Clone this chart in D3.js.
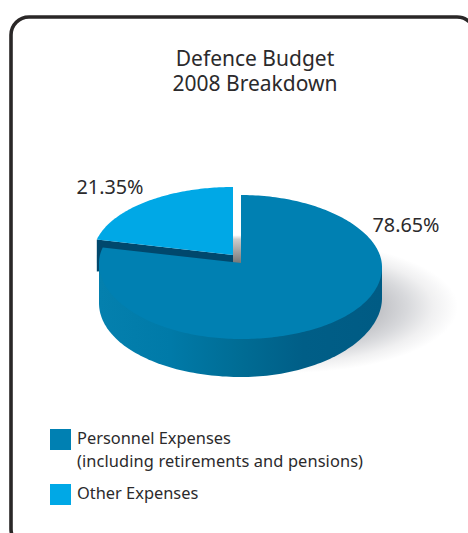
<!DOCTYPE html>
<html><head><meta charset="utf-8">
<style>html,body{margin:0;padding:0;background:#fff;overflow:hidden}svg{display:block}text{font-family:"Noto Sans","Open Sans",sans-serif;fill:#2b2a2c}</style>
<script src="https://cdn.jsdelivr.net/npm/d3@7/dist/d3.min.js"></script>
</head><body>
<script>
const categories = ["Personnel Expenses", "Other Expenses"];
const values = [78.65, 21.35];
const valueLabels = ["78.65%", "21.35%"];
const legendLines = [["Personnel Expenses", "(including retirements and pensions)"], ["Other Expenses"]];
const titleLines = ["Defence Budget", "2008 Breakdown"];
const colors = ["#0080b2", "#00a8e6"];

const W = 468, H = 533;
const svg = d3.select("body").append("svg").attr("width", W).attr("height", H);
const defs = svg.append("defs");

const rx = 141, rxLeft = 142, ryTop = 68, ryBottom = 76, cx = 241, cy = 263;

// perspective projection of a pie point: angle clockwise from the top, radius fraction t
function project(a, t, drop) {
  const s = Math.sin(a), c = Math.cos(a);
  const yr = c > 0 ? -ryTop * c : -ryBottom * c;
  const skew = s > 0 ? 4 * s * s : 0;
  return [(s < 0 ? rxLeft : rx) * s * t, (yr + skew) * t + (drop || 0)];
}
const depth = a => { const s = Math.sin(a); return s > 0 ? 38 - 7 * s * s : 38 + 2 * s * s; };

const pie = d3.pie().sort(null).startAngle(0).endAngle(2 * Math.PI);
const arcs = pie(values);
const [mainArc, otherArc] = arcs;
const line = d3.line();
const samples = (a0, a1, n = 120) => d3.range(n + 1).map(i => a0 + (a1 - a0) * i / n);

// frame
svg.append("rect").attr("x", 11).attr("y", 17).attr("width", 464).attr("height", 530).attr("rx", 18)
  .attr("fill", "#fff").attr("stroke", "#2a2727").attr("stroke-width", 3.6);

// shadow
const sg = defs.append("radialGradient").attr("id", "shadow");
sg.selectAll("stop").data([[0, "#bfc0c4"], [0.55, "#c4c5c9"], [0.7, "#d8d9dc"], [0.85, "#f0f0f1"], [1, "#ffffff"]]).join("stop")
  .attr("offset", d => d[0]).attr("stop-color", d => d[1]);
svg.append("ellipse").attr("cx", 290).attr("cy", 307).attr("rx", 168).attr("ry", 66).attr("fill", "url(#shadow)");

// side wall gradient (coordinates local to the pie group)
const wg = defs.append("linearGradient").attr("id", "wall").attr("gradientUnits", "userSpaceOnUse")
  .attr("x1", -rx).attr("x2", rx).attr("y1", 0).attr("y2", 0);
wg.selectAll("stop").data([[0, "#0480ae"], [0.25, "#007aa8"], [0.5, "#006c94"], [0.72, "#005e87"], [1, "#005b84"]]).join("stop")
  .attr("offset", d => d[0]).attr("stop-color", d => d[1]);

// gap wall gradient
const gg = defs.append("linearGradient").attr("id", "gap").attr("x1", 0).attr("x2", 0).attr("y1", 0).attr("y2", 1);
gg.selectAll("stop").data([[0, "#ffffff"], [0.15, "#cccccc"], [1, "#777777"]]).join("stop")
  .attr("offset", d => d[0]).attr("stop-color", d => d[1]);

const pieG = svg.append("g").attr("transform", `translate(${cx},${cy})`);
const otherDx = -8, otherDy = -8;
const otherG = pieG.append("g").attr("transform", `translate(${otherDx},${otherDy}) scale(0.985,1)`);

// other slice walls (mostly hidden behind the main slice)
const corner = project(otherArc.startAngle, 1);
otherG.append("path")
  .attr("d", line([[0, 0], corner, [corner[0], corner[1] + 32], [0, 8]]) + "Z")
  .attr("fill", "#00486d");

// grey inner wall of main slice seen through the gap
const apex = project(0, 0);
const topP = project(0, 1);
pieG.append("path")
  .attr("d", line([[otherDx, topP[1] * 0.41], [0, topP[1] * 0.41], apex, [otherDx, apex[1]]]) + "Z")
  .attr("fill", "url(#gap)");

// main slice side wall (runs under the top face so no seam shows)
const wallAngles = samples(Math.PI * 0.5, Math.PI * 1.5);
const wallBottom = wallAngles.map(a => project(a, 1, depth(a))).reverse();
const wallTopInner = [project(Math.PI * 0.5, 1), project(Math.PI * 0.5, 0.9), project(Math.PI * 1.5, 0.9), project(Math.PI * 1.5, 1)];
pieG.append("path").attr("d", line(wallTopInner.concat(wallBottom)) + "Z").attr("fill", "url(#wall)");

// main slice top
const mainPts = [apex].concat(samples(mainArc.startAngle, mainArc.endAngle, 240).map(a => project(a, 1)));
pieG.append("path").attr("d", line(mainPts) + "Z").attr("fill", colors[0]);

// other slice top
const otherPts = [apex].concat(samples(otherArc.startAngle, otherArc.endAngle, 80).map(a => project(a, 1)));
otherG.append("path").attr("d", line(otherPts) + "Z").attr("fill", colors[1]);

// labels
svg.append("text").attr("text-anchor", "middle").attr("font-size", 21)
  .selectAll("tspan").data(titleLines).join("tspan")
  .attr("x", 255).attr("y", (d, i) => 65.5 + i * 25).text(d => d);
svg.append("text").attr("x", 406).attr("y", 232).attr("text-anchor", "middle").attr("font-size", 19.8).text(valueLabels[0]);
svg.append("text").attr("x", 110).attr("y", 194).attr("text-anchor", "middle").attr("font-size", 19.8).text(valueLabels[1]);

// legend
const legendY = d3.scaleOrdinal().domain(categories).range([429, 484]);
const lg = svg.append("g").selectAll("g").data(categories).join("g")
  .attr("transform", d => `translate(50,${legendY(d)})`);
lg.append("rect").attr("width", 21).attr("height", 21).attr("fill", (d, i) => colors[i]);
lg.selectAll("text").data((d, i) => legendLines[i]).join("text")
  .attr("x", 27).attr("y", (d, i) => 15 + i * 23).attr("font-size", 16.4)
  .attr("letter-spacing", (d, i) => i ? 0.1 : 0).text(d => d);
</script>
</body></html>
